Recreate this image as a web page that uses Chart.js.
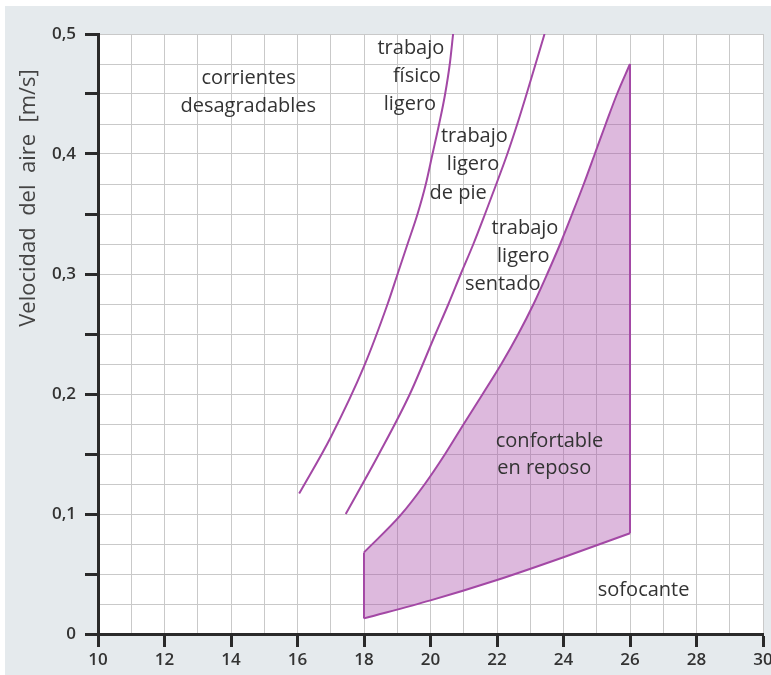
<!DOCTYPE html>
<html><head><meta charset="utf-8">
<script src="https://cdn.jsdelivr.net/npm/chart.js@4"></script>
<style>html,body{margin:0;padding:0;background:#fff}#wrap{width:771px;height:675px}</style>
</head><body><div id="wrap"><canvas id="c" width="771" height="675"></canvas></div>
<script>
// ---- data ----
const xTickValues = [10, 12, 14, 16, 18, 20, 22, 24, 26, 28, 30];
const yTickLabels = ['0', '0,1', '0,2', '0,3', '0,4', '0,5'];
const yAxisTitle = 'Velocidad  del  aire  [m/s]';

// trabajo físico ligero
const fisicoT = [16.05, 17.0, 18.0, 18.71, 19.01, 19.31, 19.61, 19.86, 20.06, 20.26, 20.44, 20.58, 20.68];
const fisicoV = [0.117, 0.164, 0.223, 0.275, 0.3, 0.325, 0.35, 0.375, 0.4, 0.425, 0.45, 0.475, 0.5];
// trabajo ligero de pie
const dePieT = [17.45, 18.45, 19.38, 20.15, 20.54, 20.91, 21.29, 21.64, 21.98, 22.31, 22.61, 22.89, 23.16, 23.43];
const dePieV = [0.1, 0.15, 0.2, 0.25, 0.275, 0.3, 0.325, 0.35, 0.375, 0.4, 0.425, 0.45, 0.475, 0.5];
// confortable en reposo: upper boundary (trabajo ligero sentado) and lower boundary
const confSupT = [18.0, 19.1, 19.83, 20.44, 21.0, 21.57, 22.13, 22.64, 23.1, 23.51, 23.9, 24.26, 24.61, 24.94, 25.27, 25.61, 26.0];
const confSupV = [0.068, 0.099, 0.125, 0.15, 0.175, 0.2, 0.225, 0.25, 0.275, 0.3, 0.325, 0.35, 0.375, 0.4, 0.425, 0.45, 0.475];
const confInfT = [18, 20, 22, 24, 26];
const confInfV = [0.013, 0.028, 0.045, 0.064, 0.084];

// text annotations: each line centred on a data-space anchor
const annotations = [
  {text: 'corrientes', x: 14.53, y: 0.4633},
  {text: 'desagradables', x: 14.52, y: 0.44},
  {text: 'trabajo', x: 19.41, y: 0.4883},
  {text: 'físico', x: 19.59, y: 0.465},
  {text: 'ligero', x: 19.38, y: 0.4417},
  {text: 'trabajo', x: 21.32, y: 0.415},
  {text: 'ligero', x: 21.28, y: 0.3917},
  {text: 'de pie', x: 20.83, y: 0.3675},
  {text: 'trabajo', x: 22.84, y: 0.3383},
  {text: 'ligero', x: 22.79, y: 0.315},
  {text: 'sentado', x: 22.17, y: 0.2917},
  {text: 'confortable', x: 23.58, y: 0.1608},
  {text: 'en reposo', x: 23.42, y: 0.1383},
  {text: 'sofocante', x: 26.41, y: 0.0367}
];
// -------------------------------------

const pts = (xs, ys) => xs.map((x, i) => ({x: x, y: ys[i]}));
const LINE = 'rgb(163,72,165)';
const FILL = 'rgba(170,80,170,0.40)';

const bgPlugin = {
  id: 'bg',
  beforeDraw(chart) {
    const c = chart.ctx, a = chart.chartArea;
    c.save();
    c.fillStyle = '#ffffff'; c.fillRect(0, 0, chart.width, chart.height);
    c.fillStyle = 'rgb(229,234,237)'; c.fillRect(5, 6, chart.width - 5, chart.height - 6);
    c.fillStyle = '#ffffff'; c.fillRect(a.left, a.top, a.right - a.left, a.bottom - a.top);
    c.restore();
  }
};
const textPlugin = {
  id: 'texts',
  afterDraw(chart) {
    const c = chart.ctx, xs = chart.scales.x, ys = chart.scales.y;
    c.save();
    c.fillStyle = '#333333';
    c.font = '20px "Open Sans"';
    c.textAlign = 'center'; c.textBaseline = 'middle';
    annotations.forEach(a => c.fillText(a.text, xs.getPixelForValue(a.x), ys.getPixelForValue(a.y)));
    c.translate(29, 198);
    c.rotate(-Math.PI / 2);
    c.font = '22px "Open Sans"';
    c.fillStyle = '#444';
    c.fillText(yAxisTitle, 0, 0);
    c.restore();
  }
};

const common = {showLine: true, pointRadius: 0, borderColor: LINE, borderWidth: 2, fill: false};

new Chart(document.getElementById('c'), {
  type: 'scatter',
  data: {datasets: [
    Object.assign({label: 'fisico', data: pts(fisicoT, fisicoV), cubicInterpolationMode: 'monotone'}, common),
    Object.assign({label: 'depie', data: pts(dePieT, dePieV), cubicInterpolationMode: 'monotone'}, common),
    Object.assign({label: 'sup', data: pts(confSupT, confSupV), cubicInterpolationMode: 'monotone'}, common),
    Object.assign({}, common, {label: 'inf', data: pts(confInfT, confInfV), cubicInterpolationMode: 'monotone', fill: '-1', backgroundColor: FILL}),
    Object.assign({label: 'left', data: [{x: confInfT[0], y: confInfV[0]}, {x: confSupT[0], y: confSupV[0]}]}, common),
    Object.assign({label: 'right', data: [{x: confInfT[confInfT.length - 1], y: confInfV[confInfV.length - 1]}, {x: confSupT[confSupT.length - 1], y: confSupV[confSupV.length - 1]}]}, common)
  ]},
  options: {
    responsive: false, animation: false, devicePixelRatio: 1,
    layout: {padding: {top: 34, right: 8, left: 0, bottom: 0}},
    plugins: {legend: {display: false}, tooltip: {enabled: false}},
    scales: {
      x: {
        type: 'linear', min: 10, max: 30,
        afterFit(s) { s.height = 41; s.paddingLeft = 0; s.paddingRight = 0; },
        ticks: {stepSize: 1, autoSkip: false, maxRotation: 0, padding: 3,
          color: '#333', font: {family: '"Open Sans"', size: 17, weight: '600'},
          callback: v => xTickValues.includes(v) ? String(v) : ''},
        grid: {color: '#c9c9c9', lineWidth: 1, tickLength: 13, tickWidth: 3,
          tickColor: ctx => (ctx.tick && xTickValues.includes(ctx.tick.value)) ? '#2a2a2a' : 'rgba(0,0,0,0)'},
        border: {color: '#2a2a2a', width: 3}
      },
      y: {
        min: 0, max: 0.5,
        afterFit(s) { s.width = 98; s.paddingTop = 0; s.paddingBottom = 0; },
        ticks: {stepSize: 0.025, autoSkip: false, padding: 9,
          color: '#333', font: {family: '"Open Sans"', size: 17, weight: '600'},
          callback: v => { const k = Math.round(v * 40); return k % 4 === 0 ? yTickLabels[k / 4] : ''; }},
        grid: {color: '#c9c9c9', lineWidth: 1, tickLength: 13, tickWidth: 3,
          tickColor: ctx => (ctx.tick && Math.round(ctx.tick.value * 40) % 2 === 0) ? '#2a2a2a' : 'rgba(0,0,0,0)'},
        border: {color: '#2a2a2a', width: 3}
      }
    }
  },
  plugins: [bgPlugin, textPlugin]
});
</script></body></html>
